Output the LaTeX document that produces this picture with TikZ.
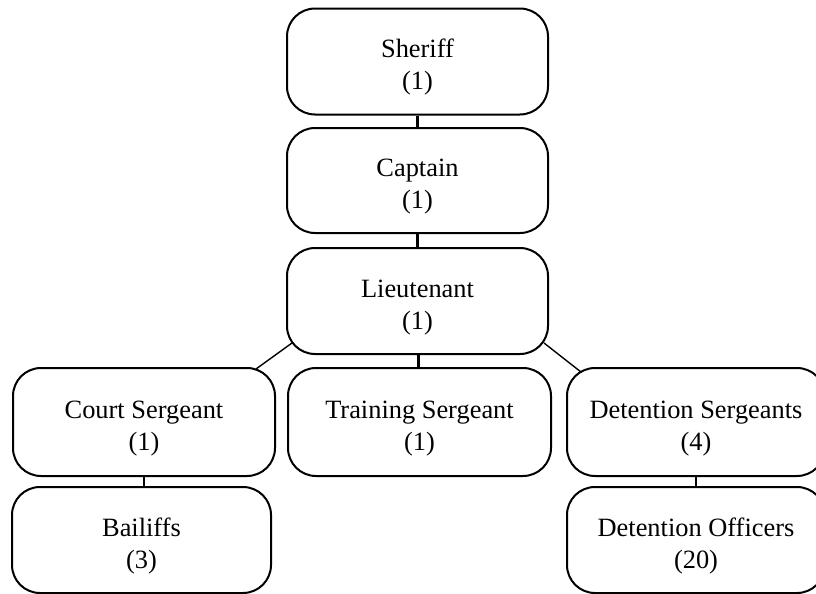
\documentclass[tikz,border=0pt]{standalone}
\usepackage{fontspec}
\setmainfont{Liberation Serif}
\usetikzlibrary{calc}
\newcommand\rankline[2]{\rule{0pt}{15pt}#1\\#2}
\tikzset{
	rank/.style={draw, line width=1pt, rounded corners=14pt, fill=white, align=center,
		minimum height=53pt, inner sep=0pt,
		font=\fontsize{13.2}{16}\selectfont},
	link/.style={line width=1.4pt},
	slant/.style={line width=0.7pt}
}

\begin{document}
\begin{tikzpicture}[x=0.5pt, y=-0.5pt]
		%%%%% START %%%%%
		
		\useasboundingbox (0, 0) rectangle (816, 594);
		
		\node[rank, minimum width=130.5pt] (sh) at (417.5, 61.5) {\rankline{Sheriff}{(1)}};
		\node[rank, minimum width=130.5pt, minimum height=52.5pt] (cp) at (417.5, 180.5) {\rankline{Captain}{(1)}};
		\node[rank, minimum width=130.5pt] (lt) at (417.5, 301) {\rankline{Lieutenant}{(1)}};
		
		\node[rank, minimum width=131pt, minimum height=54pt] (cs) at (144, 422) {\rankline{Court Sergeant}{(1)}};
		\node[rank, minimum width=131.5pt, minimum height=54pt] (ts) at (419.5, 422) {\rankline{Training Sergeant}{(1)}};
		\node[rank, minimum width=129pt, minimum height=54pt] (ds) at (696, 422) {\rankline{Detention Sergeants}{(4)}};
		
		\node[rank, minimum width=129.5pt] (bf) at (141.5, 540) {\rankline{Bailiffs}{(3)}};
		\node[rank, minimum width=129pt] (do) at (696, 540) {\rankline{Detention Officers}{(20)}};
		
		\draw[link] (sh) -- (cp);
		\draw[link] (cp) -- (lt);
		\draw[link] (lt) -- (ts);
		\draw[link] (cs) -- (cs |- bf.north);
		\draw[link] (ds) -- (ds |- do.north);
		
		\draw[slant] ($(lt.south west)+(3pt,6pt)$) -- ($(cs.north east)+(-10pt,-1pt)$);
		\draw[slant] ($(lt.south east)+(-2.5pt,6pt)$) -- ($(ds.north west)+(7.5pt,-2.5pt)$);
		
		%%%%% END %%%%%
	\end{tikzpicture}
\end{document}
